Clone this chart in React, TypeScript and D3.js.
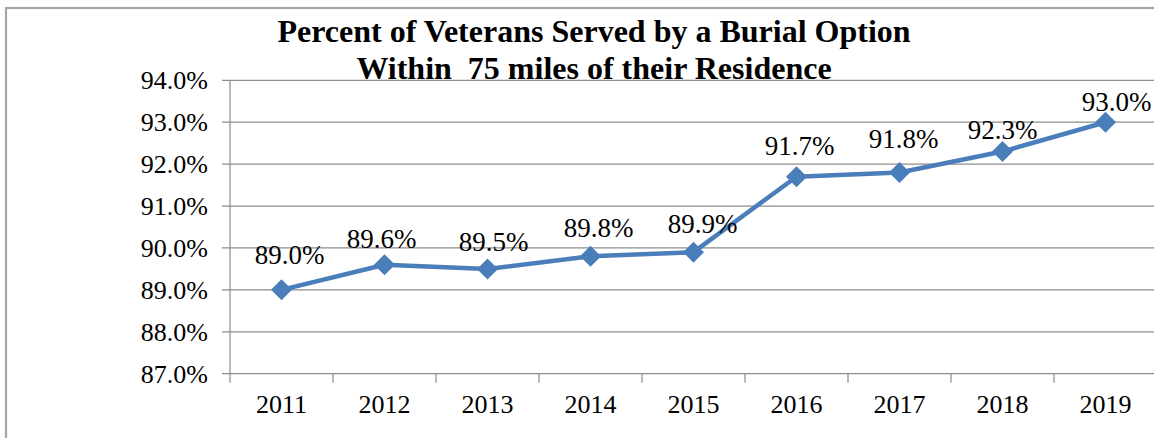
import React from "react";
import * as d3 from "d3";

const years = ["2011", "2012", "2013", "2014", "2015", "2016", "2017", "2018", "2019"];
const percentServed = [89.0, 89.6, 89.5, 89.8, 89.9, 91.7, 91.8, 92.3, 93.0];
const yTicks = [87, 88, 89, 90, 91, 92, 93, 94];
const titleLines = ["Percent of Veterans Served by a Burial Option", "Within  75 miles of their Residence"];
// manual label nudges (dx, dy above the point) as placed in the original
const labelDx = [8, -3, 6, 8, 9, 3, 4, 0, 11];
const labelDy = [26, 17, 18, 19, 19, 22, 25, 13, 11];

const W = 1154;
const H = 438;
const plotLeft = 230;
const plotRight = 1157;
const plotTop = 80.3;
const plotBottom = 373.7;
const blue = "#4A7EBB";
const grid = "#8C8C8C";
const font = "Liberation Serif";

export default function App() {
  const x = d3.scaleBand<string>().domain(years).range([plotLeft, plotRight]).padding(0);
  const y = d3.scaleLinear().domain([87, 94]).range([plotBottom, plotTop]);
  const cx = (d: string) => (x(d) ?? 0) + x.bandwidth() / 2;
  const line = d3
    .line<number>()
    .x((_, i) => cx(years[i]))
    .y((v) => y(v));
  const fmt = (v: number) => v.toFixed(1) + "%";
  const dSize = 10.5;
  const ts = { fontFamily: font };

  return (
    <svg width={W} height={H} style={{ position: "absolute", left: 0, top: 0, background: "#fff" }}>
      <rect x={6} y={8} width={W + 20} height={H + 20} fill="#fff" stroke="#A6A6A6" strokeWidth={2.2} />
      {yTicks.map((t) => (
        <g key={t}>
          <line x1={plotLeft - 8} x2={plotRight} y1={y(t)} y2={y(t)} stroke={grid} strokeWidth={1.2} />
          <text x={208} y={y(t)} dy="0.34em" textAnchor="end" fontSize={26} fill="#000" style={ts}>
            {t.toFixed(1) + "%"}
          </text>
        </g>
      ))}
      <line x1={plotLeft} x2={plotLeft} y1={plotTop} y2={plotBottom} stroke={grid} strokeWidth={1.2} />
      {years.map((yr) => (
        <line
          key={"t" + yr}
          x1={x(yr)}
          x2={x(yr)}
          y1={plotBottom}
          y2={plotBottom + 9}
          stroke={grid}
          strokeWidth={1.2}
        />
      ))}
      {years.map((yr) => (
        <text key={"l" + yr} x={cx(yr)} y={413} textAnchor="middle" fontSize={26} fill="#000" style={ts}>
          {yr}
        </text>
      ))}
      <path d={line(percentServed) ?? ""} fill="none" stroke={blue} strokeWidth={4.5} strokeLinejoin="round" />
      {percentServed.map((v, i) => {
        const px = cx(years[i]);
        const py = y(v);
        return (
          <path
            key={"m" + i}
            d={`M${px},${py - dSize}L${px + dSize},${py}L${px},${py + dSize}L${px - dSize},${py}Z`}
            fill={blue}
          />
        );
      })}
      {percentServed.map((v, i) => (
        <text
          key={"d" + i}
          x={cx(years[i]) + labelDx[i]}
          y={y(v) - labelDy[i]}
          textAnchor="middle"
          fontSize={27}
          fill="#000"
          style={ts}
        >
          {fmt(v)}
        </text>
      ))}
      {titleLines.map((t, i) => (
        <text
          key={"ti" + i}
          x={594}
          y={41.7 + i * 36.8}
          textAnchor="middle"
          fontSize={32}
          fontWeight="bold"
          fill="#000"
          style={{ fontFamily: font, whiteSpace: "pre" }}
        >
          {t}
        </text>
      ))}
    </svg>
  );
}
